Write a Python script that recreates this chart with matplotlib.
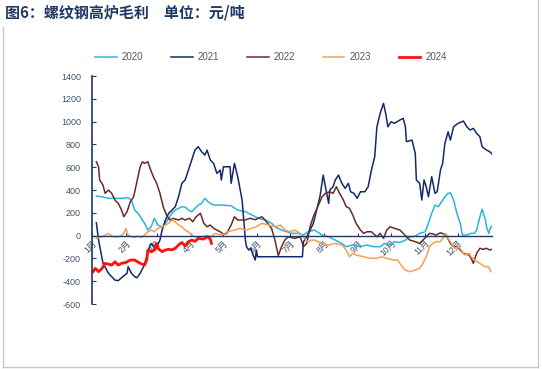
import matplotlib
matplotlib.use("Agg")
import matplotlib.pyplot as plt
from matplotlib.lines import Line2D

plt.rcParams["font.family"] = ["Liberation Sans", "Noto Sans CJK SC", "DejaVu Sans"]

# --- data: day of year -> gross margin (yuan/ton) ---
days_2020 = [4, 9, 15, 21, 27, 33, 36, 39, 42, 45, 48, 51, 54, 57, 60, 64, 67, 70, 73, 76,
             79, 82, 85, 88, 91, 94, 97, 100, 103, 106, 109, 112, 118, 127, 133, 140, 146,
             152, 158, 164, 167, 173, 178, 182, 188, 193, 197, 203, 210, 216, 222, 228, 232,
             238, 245, 251, 257, 263, 267, 272, 276, 281, 286, 290, 295, 299, 304, 307, 310,
             313, 316, 319, 322, 325, 327, 330, 333, 336, 338, 342, 346, 349, 351, 354, 356,
             359, 360, 362, 364, 365]
vals_2020 = [347, 341, 327, 327, 327, 333, 312, 224, 196, 152, 108, 49, 78, 152, 93, 78, 108,
             152, 196, 224, 239, 254, 250, 224, 210, 239, 268, 283, 327, 297, 277, 268, 268,
             262, 224, 210, 181, 152, 137, 108, 78, 49, 34, 20, 20, 5, 34, 49, 5, -10, -39,
             -68, -97, -82, -97, -82, -97, -97, -68, -82, -53, -60, -39, -10, -5, 20, 34, 108,
             196, 268, 254, 297, 341, 371, 376, 312, 196, 108, 5, 5, 20, 20, 49, 166, 231, 137,
             78, 20, 78, 84]

days_2021 = [4, 6, 10, 15, 21, 24, 28, 32, 33, 36, 39, 41, 44, 47, 50, 53, 54, 57, 60, 62,
             64, 67, 70, 73, 76, 79, 82, 85, 88, 91, 94, 97, 100, 103, 105, 108, 111, 114,
             117, 118, 120, 126, 127, 130, 133, 137, 140, 141, 143, 145, 147, 149, 150, 151,
             192, 193, 196, 199, 202, 205, 208, 211, 213, 216, 217, 220, 222, 225, 228, 231,
             234, 236, 239, 242, 245, 249, 252, 255, 258, 260, 263, 266, 268, 270, 273, 276,
             281, 284, 286, 287, 292, 295, 296, 299, 301, 303, 305, 307, 310, 313, 315, 318,
             320, 322, 325, 327, 330, 334, 339, 342, 345, 348, 351, 354, 356, 360, 363, 365]
vals_2021 = [113, -39, -240, -330, -390, -395, -360, -330, -273, -330, -360, -370, -330, -273,
             -185, -82, -70, -97, -80, -39, 49, 137, 196, 224, 254, 341, 459, 488, 575, 663,
             751, 780, 736, 707, 750, 663, 634, 546, 575, 488, 604, 604, 459, 634, 517, 312,
             -39, -97, -126, -110, -170, -214, -126, -185, -185, -53, -10, 49, 108, 224, 341,
             531, 429, 283, 400, 429, 488, 531, 459, 415, 459, 385, 371, 327, 385, 385, 429,
             575, 692, 955, 1073, 1160, 1073, 955, 999, 985, 1014, 1029, 955, 824, 838, 722,
             488, 459, 312, 488, 429, 341, 517, 371, 385, 575, 634, 809, 911, 838, 955, 985,
             1005, 955, 926, 941, 897, 867, 780, 751, 736, 716]

days_2022 = [4, 6, 7, 10, 12, 15, 18, 21, 24, 27, 29, 32, 35, 38, 41, 44, 46, 48, 51, 53,
             56, 59, 62, 65, 68, 71, 74, 79, 82, 85, 89, 92, 95, 99, 102, 105, 108, 111, 114,
             117, 120, 123, 127, 130, 133, 140, 144, 149, 155, 158, 161, 164, 167, 170, 173,
             176, 179, 185, 190, 193, 196, 199, 202, 206, 210, 213, 217, 220, 223, 226, 229,
             232, 235, 238, 241, 245, 248, 251, 255, 260, 263, 266, 269, 272, 276, 281, 284,
             287, 290, 295, 299, 302, 305, 308, 311, 314, 318, 321, 324, 327, 330, 333, 336,
             339, 344, 346, 348, 351, 354, 357, 360, 363, 365]
vals_2022 = [648, 604, 488, 444, 371, 400, 371, 312, 283, 224, 166, 210, 297, 341, 473, 604,
             648, 634, 648, 590, 517, 459, 371, 254, 181, 137, 152, 137, 152, 137, 152, 122,
             166, 196, 108, 78, 93, 64, 49, 34, 14, 20, 93, 166, 137, 137, 152, 140, 166, 137,
             100, 60, -40, -175, -97, -39, -10, -24, -10, -97, -68, 78, 166, 254, 341, 371,
             385, 371, 429, 371, 320, 254, 240, 180, 108, 49, 20, 34, 34, -10, 20, -24, 49, 78,
             64, 49, 20, -10, -39, -53, -68, -39, -10, 20, 15, 5, 25, 15, -10, -68, -97, -97,
             -126, -155, -170, -199, -243, -155, -111, -120, -111, -126, -120]

days_2023 = [4, 9, 12, 15, 18, 21, 26, 29, 31, 33, 36, 39, 42, 45, 48, 51, 54, 57, 60, 64,
             67, 70, 73, 76, 79, 82, 85, 88, 91, 94, 97, 103, 106, 109, 112, 118, 124, 130,
             135, 140, 146, 150, 155, 161, 167, 172, 176, 181, 185, 190, 194, 197, 200, 203,
             210, 216, 222, 228, 232, 235, 238, 241, 248, 254, 260, 264, 269, 275, 279, 283,
             286, 290, 295, 299, 302, 305, 308, 311, 314, 318, 321, 323, 325, 328, 331, 334,
             337, 340, 344, 346, 349, 352, 356, 359, 362, 364]
vals_2023 = [-24, -10, 5, 20, -5, -10, -5, 20, 64, 5, -10, -15, -5, -15, 5, 34, 49, 34, 64,
             78, 93, 108, 137, 122, 93, 78, 49, 34, 5, -10, -10, -5, 0, -10, 20, 5, 34, 49, 64,
             49, 64, 78, 108, 93, 78, 93, 49, 34, 49, 20, -24, -53, -39, -39, -68, -82, -68,
             -82, -126, -185, -155, -170, -185, -199, -199, -185, -199, -214, -214, -273, -302,
             -316, -302, -287, -243, -185, -97, -68, -53, -53, -10, 20, -24, -68, -111, -97,
             -126, -170, -155, -185, -214, -229, -258, -273, -273, -316]

days_2024 = [1, 3, 6, 9, 12, 15, 18, 21, 24, 27, 31, 35, 39, 44, 48, 50, 51, 54, 57, 59, 60,
             64, 67, 70, 73, 76, 79, 82, 85, 88, 91, 94, 97, 102, 105, 108, 109]
vals_2024 = [-316, -287, -316, -290, -243, -250, -258, -229, -258, -243, -235, -214, -214,
             -243, -258, -214, -126, -141, -126, -68, -111, -140, -126, -120, -125, -111, -82,
             -60, -90, -53, -39, -50, -24, -30, -10, -30, -68]

month_starts = [0, 31, 59, 90, 120, 151, 181, 212, 243, 273, 304, 334]
month_labels = ["1月", "2月", "3月", "4月", "5月", "6月", "7月", "8月", "9月", "10月", "11月", "12月"]
y_ticks = list(range(-600, 1401, 200))

navy = "#1F3864"
text_col = "#44546A"

fig = plt.figure(figsize=(5.42, 3.69), dpi=100)
ax = fig.add_axes([0.1697, 0.176, 0.738, 0.618])

ax.plot(days_2020, vals_2020, color="#2DB4DC", lw=1.1, label="2020")
ax.plot(days_2021, vals_2021, color="#15296B", lw=1.1, label="2021")
ax.plot(days_2022, vals_2022, color="#6B2A2A", lw=1.1, label="2022")
ax.plot(days_2023, vals_2023, color="#F2A05A", lw=1.1, label="2023")
ax.plot(days_2024, vals_2024, color="#FF1010", lw=2.0, label="2024")

ax.set_xlim(0, 365)
ax.set_ylim(-600, 1400)

ax.spines["top"].set_visible(False)
ax.spines["right"].set_visible(False)
ax.spines["left"].set_color(navy)
ax.spines["left"].set_linewidth(1.2)
ax.spines["bottom"].set_position(("data", 0))
ax.spines["bottom"].set_color(navy)
ax.spines["bottom"].set_linewidth(1.0)

ax.set_yticks(y_ticks)
ax.set_yticklabels([str(v) for v in y_ticks])
ax.tick_params(axis="y", direction="in", length=3, color=navy, labelsize=6.5,
               labelcolor=text_col, pad=8)

ax.set_xticks(month_starts)
ax.set_xticklabels(month_labels, rotation=45, ha="right", rotation_mode="anchor")
ax.tick_params(axis="x", direction="in", length=2, color=navy, labelsize=6.2,
               labelcolor=text_col, pad=2)

leg = fig.legend(loc="center", bbox_to_anchor=(0.5, 0.845), ncol=5, frameon=False,
                 fontsize=7, handlelength=2.2, columnspacing=2.9, handletextpad=0.5)
for t in leg.get_texts():
    t.set_color("#595959")

fig.text(0.01, 0.965, "图6：螺纹钢高炉毛利　单位：元/吨", fontsize=10.8, fontweight="bold",
         color=navy, family=["Noto Sans CJK SC", "DejaVu Sans"], va="center", ha="left")

# light grey frame around the chart
fig.add_artist(Line2D([0.006, 0.006], [0.005, 0.927], color="#C8C8C8", lw=1.0))
fig.add_artist(Line2D([0.993, 0.993], [0.005, 1.0], color="#C8C8C8", lw=1.0))
fig.add_artist(Line2D([0.006, 0.993], [0.005, 0.005], color="#C8C8C8", lw=1.0))

fig.savefig("out.png", dpi=100)
